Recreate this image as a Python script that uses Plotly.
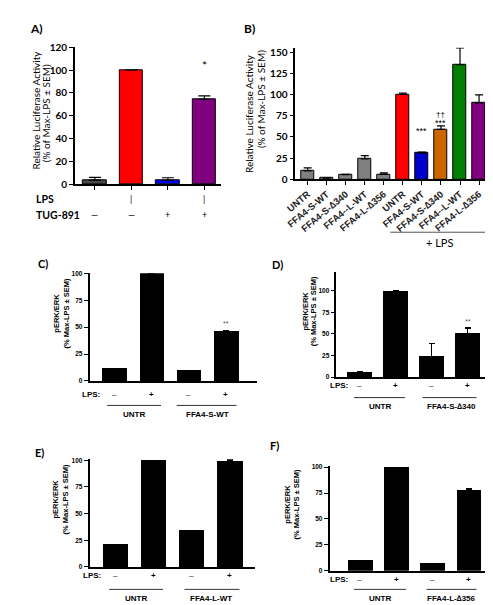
import plotly.graph_objects as go

W, H = 493, 605

# ---------------- DATA ----------------
# Panel A
A_values = [3.7, 100, 3.4, 74.5]
A_err = [2.3, 0, 2.3, 3]
A_colors = ["#4a4a4a", "#ff0000", "#0000ff", "#800080"]
A_lps = ["", "|", "", "|"]
A_tug = ["—", "—", "+", "+"]
A_yticks = [0, 20, 40, 60, 80, 100, 120]

# Panel B
B_labels = ["UNTR", "FFA4-S-WT", "FFA4-S-∆340", "FFA4--L-WT", "FFA4-L-∆356",
            "UNTR", "FFA4-S-WT", "FFA4-S-∆340", "FFA4--L-WT", "FFA4-L-∆356"]
B_values = [10, 1.5, 5.5, 24, 6, 100, 31, 59, 135, 90]
B_err = [3.5, 0.3, 0.5, 4, 1.7, 1.5, 1.2, 4, 20, 9.5]
B_colors = ["#808080"] * 5 + ["#ff0000", "#0000cc", "#cc6600", "#008000", "#800080"]
B_yticks = [0, 25, 50, 75, 100, 125, 150]

# Panels C-F (pERK/ERK)
LPS_signs = ["–", "+", "–", "+"]
C_values = [11.5, 100, 10, 46]
C_err = [0, 0, 0, 0.6]
D_values = [6, 100, 24, 51]
D_err = [0.3, 0, 15, 6]
E_values = [21, 100, 34, 99]
E_err = [0.3, 0, 0.3, 1.2]
F_values = [10, 100, 7, 78]
F_err = [0.3, 0, 0, 1.2]
CF_yticks = [0, 25, 50, 75, 100]
C_groups = ["UNTR", "FFA4-S-WT"]
D_groups = ["UNTR", "FFA4-S-∆340"]
E_groups = ["UNTR", "FFA4-L-WT"]
F_groups = ["UNTR", "FFA4-L-∆356"]

# ---------------- FIGURE ----------------
CAL = "Lato, Carlito, Calibri, sans-serif"
ARI = "Liberation Sans, Arial, sans-serif"

fig = go.Figure()
annotations = []
shapes = []


def fx(p):
    return p / W


def fy(p):
    return 1 - p / H


def add_panel(s, values, err, colors, outline, bw, ew, xdom, ydom, xr, yr,
              yticks, tickfont, xticks=False, xticklabels=None, xtickfont=None,
              xtickangle=0):
    n = len(values)
    fig.add_trace(go.Bar(
        x=list(range(n)), y=values, width=bw,
        marker=dict(color=colors, line=dict(color="black", width=outline)),
        error_y=dict(type="data", symmetric=False, array=err, arrayminus=[0] * n,
                     color="black", thickness=1.2, width=ew),
        xaxis="x" + s, yaxis="y" + s, showlegend=False, hoverinfo="skip"))
    xa = dict(domain=[fx(xdom[0]), fx(xdom[1])], range=xr, anchor="y" + s,
              showline=True, linecolor="black", linewidth=1.5, showgrid=False,
              zeroline=False, fixedrange=True)
    if xticks:
        xa.update(ticks="outside", ticklen=4, tickwidth=1, tickcolor="black",
                  tickvals=list(range(n)))
    else:
        xa.update(ticks="", tickvals=[])
    if xticklabels is not None:
        xa.update(ticktext=xticklabels, showticklabels=True, tickfont=xtickfont,
                  tickangle=xtickangle)
    else:
        xa.update(showticklabels=False)
    ya = dict(domain=[fy(ydom[0]), fy(ydom[1])], range=yr, anchor="x" + s,
              showline=True, linecolor="black", linewidth=1.5, showgrid=False,
              zeroline=False, ticks="outside", ticklen=4, tickwidth=1.2,
              tickcolor="black", tickvals=yticks, tickfont=tickfont,
              fixedrange=True)
    fig.layout["xaxis" + s] = xa
    fig.layout["yaxis" + s] = ya


# Panel A
add_panel("", A_values, A_err, A_colors, 1, 0.64, 6,
          (58, 207), (173, 33), [-0.55, 3.45], [0, 120], A_yticks,
          dict(family=CAL, size=10, color="black", weight="bold"), xticks=True)
# Panel B
add_panel("2", B_values, B_err, B_colors, 1, 0.68, 4,
          (283, 485), (168, 33.5), [-0.65, 9.74], [0, 155], B_yticks,
          dict(family=CAL, size=10, color="black", weight="bold"), xticks=True,
          xticklabels=B_labels,
          xtickfont=dict(family=ARI, size=9.5, color="#222222", weight="bold"),
          xtickangle=-40)
cf_font = dict(family=ARI, size=6.5, color="black", weight="bold")
add_panel("3", C_values, C_err, ["black"] * 4, 0, 0.66, 3,
          (73, 244), (374, 264), [-0.66, 3.84], [0, 100], CF_yticks, cf_font)
add_panel("4", D_values, D_err, ["black"] * 4, 0, 0.68, 3,
          (325, 483), (370, 263), [-0.655, 3.65], [0, 121.6], CF_yticks, cf_font)
add_panel("5", E_values, E_err, ["black"] * 4, 0, 0.66, 3,
          (73, 242), (564, 454), [-0.67, 3.67], [0, 101], CF_yticks, cf_font)
add_panel("6", F_values, F_err, ["black"] * 4, 0, 0.68, 3,
          (318, 485), (568, 461), [-0.84, 3.68], [0, 101], CF_yticks, cf_font)


def ann(text, x, y, xref="paper", yref="paper", size=9, family=ARI, bold=True,
        angle=0, xanchor="center", yanchor="middle", color="black"):
    t = "<b>" + text + "</b>" if bold else text
    annotations.append(dict(text=t, x=x, y=y, xref=xref, yref=yref,
                            showarrow=False, textangle=angle, xanchor=xanchor,
                            yanchor=yanchor, font=dict(family=family, size=size,
                                                       color=color)))


# Panel letters
ann("A)", fx(19), fy(14), size=12, family=CAL)
ann("B)", fx(236), fy(14), size=12, family=CAL)
ann("C)", fx(26), fy(254), size=11, family=CAL)
ann("D)", fx(265), fy(255), size=11, family=CAL)
ann("E)", fx(22), fy(447), size=11, family=CAL)
ann("F)", fx(262), fy(440), size=11, family=CAL)

# Y titles A, B
ann("Relative Luciferase Activity", fx(18), fy(97), size=10, family=CAL, bold=False, angle=-90)
ann("(% of Max-LPS ± SEM)", fx(28), fy(100), size=10, family=CAL, bold=False, angle=-90)
ann("Relative Luciferase Activity", fx(236), fy(101), size=10, family=CAL, bold=False, angle=-90)
ann("(% of Max-LPS ± SEM)", fx(248), fy(86), size=10, family=CAL, bold=False, angle=-90)

# Y titles C-F
for (x1, x2, yc) in [(39, 49, 305), (293, 302, 303), (38, 48, 495), (275, 284, 500)]:
    ann("pERK/ERK", fx(x1), fy(yc), size=7.5, angle=-90)
    ann("(% Max-LPS ± SEM)", fx(x2), fy(yc), size=7.5, angle=-90)

# Panel A rows
ann("LPS", fx(16), fy(188), size=10.5, family=CAL, xanchor="left")
ann("TUG-891", fx(16), fy(204), size=10.5, family=CAL, xanchor="left")
for i in range(4):
    ann(A_lps[i], i, fy(188), xref="x", size=9, family=CAL, bold=False)
    ann(A_tug[i], i, fy(204), xref="x", size=9, family=CAL, bold=False)

# Panel A star
ann("*", 3, 104, xref="x", yref="y", size=12, family=CAL, bold=False)
# Panel B significance marks
ann("***", 6, 57, xref="x2", yref="y2", size=9, family=ARI, bold=False)
ann("***", 7, 66, xref="x2", yref="y2", size=9, family=ARI, bold=False)
ann("††", 7, 76, xref="x2", yref="y2", size=8, family=ARI, bold=False)
# + LPS line
shapes.append(dict(type="line", xref="paper", yref="paper", x0=fx(380), x1=fx(487),
                   y0=fy(222), y1=fy(222), line=dict(color="#555555", width=1)))
ann("+ LPS", fx(430), fy(233), size=11, family=CAL, bold=False)

# Panels C-F significance
ann("**", 3, 53.5, xref="x3", yref="y3", size=7, bold=False, color="#555555")
ann("**", 3, 64, xref="x4", yref="y4", size=7, bold=False, color="#555555")

# LPS rows & group labels C-F
cf = [
    ("x3", 388, 63, C_groups, (91, 146, 118), (162, 223, 193), 399, 408),
    ("x4", 379, 316, D_groups, (343, 395, 369), (413, 468, 442), 391, 400),
    ("x5", 573, 64, E_groups, (93, 148, 120), (170, 226, 197), 587, 596),
    ("x6", 577, 316, F_groups, (343, 396, 370), (417, 468, 442), 587, 596),
]
for xr_, ly, lx, groups, g1, g2, uy, ty in cf:
    ann("LPS:", fx(lx), fy(ly), size=8, xanchor="left")
    for i in range(4):
        ann(LPS_signs[i], i, fy(ly), xref=xr_, size=8, bold=(LPS_signs[i] == "+"))
    for g, name in zip((g1, g2), groups):
        shapes.append(dict(type="line", xref="paper", yref="paper",
                           x0=fx(g[0]), x1=fx(g[1]), y0=fy(uy), y1=fy(uy),
                           line=dict(color="#333333", width=1)))
        ann(name, fx(g[2]), fy(ty), size=8)

fig.update_layout(width=W, height=H, margin=dict(l=0, r=0, t=0, b=0),
                  paper_bgcolor="white", plot_bgcolor="white",
                  annotations=annotations, shapes=shapes, bargap=0)
fig.write_html("out.html")
